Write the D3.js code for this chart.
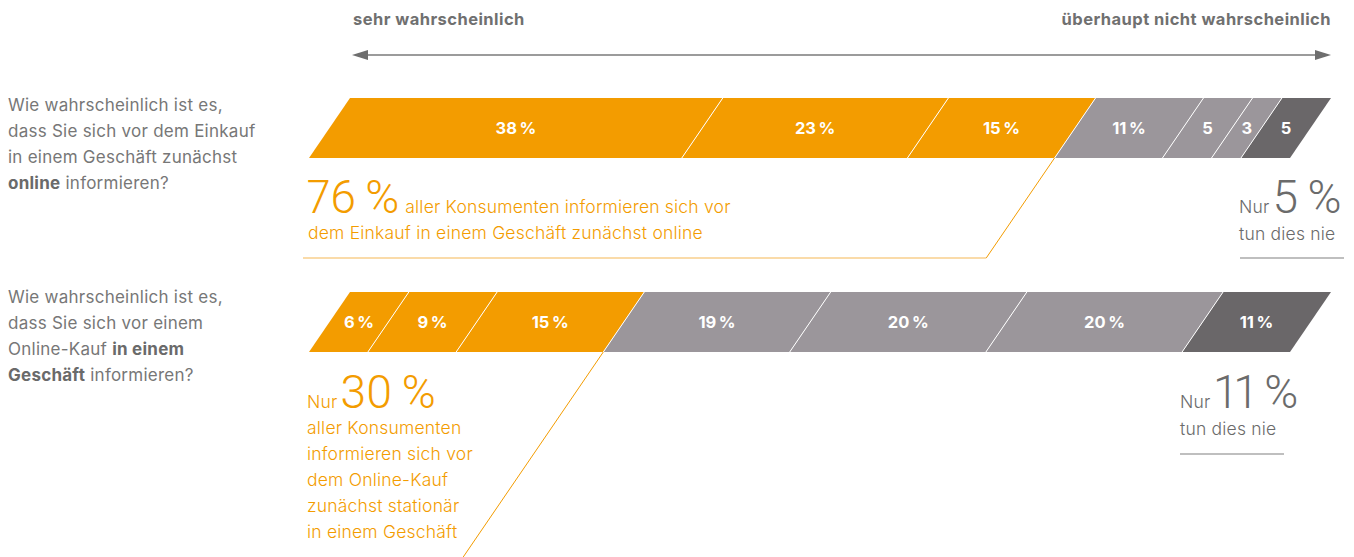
<!DOCTYPE html>
<html>
<head>
<meta charset="utf-8">
<script src="https://cdn.jsdelivr.net/npm/d3@7"></script>
<style>
  body { margin: 0; background: #fff; }
  text { font-family: Inter, Roboto, "Liberation Sans", sans-serif; }
  .big { font-family: Roboto, Inter, sans-serif; letter-spacing: 0; font-variant-numeric: proportional-nums; }
</style>
</head>
<body>
<svg width="1354" height="557"></svg>
<script>
// answer scale, from "sehr wahrscheinlich" (0) to "überhaupt nicht wahrscheinlich" (6)
var levels = [0, 1, 2, 3, 4, 5, 6];
var scaleEnds = ["sehr wahrscheinlich", "überhaupt nicht wahrscheinlich"];

var onlineFirst = [38, 23, 15, 11, 5, 3, 5];
var onlineFirstLabels = ["38 %", "23 %", "15 %", "11 %", "5", "3", "5"];
var storeFirst = [6, 9, 15, 19, 20, 20, 11];
var storeFirstLabels = ["6 %", "9 %", "15 %", "19 %", "20 %", "20 %", "11 %"];

var levelColors = ["#f39c00", "#f39c00", "#f39c00", "#9b969b", "#9b969b", "#9b969b", "#6a6769"];

var svg = d3.select("svg");
var orange = "#f39c00", grayText = "#777777";

var x = d3.scaleLinear().domain([0, 100]).range([350, 1331]);
var barH = 60, skew = 41; // top edge is shifted right by skew relative to bottom

// header with double arrow
svg.append("text").attr("x", 353).attr("y", 25)
  .attr("font-size", 16.5).attr("font-weight", 700).attr("fill", "#707070")
  .attr("letter-spacing", 0.45).text(scaleEnds[0]);
svg.append("text").attr("x", 1331).attr("y", 25).attr("text-anchor", "end")
  .attr("font-size", 16.5).attr("font-weight", 700).attr("fill", "#707070")
  .attr("letter-spacing", 0.45).text(scaleEnds[1]);
svg.append("line").attr("x1", 362).attr("x2", 1320).attr("y1", 55).attr("y2", 55)
  .attr("stroke", "#7a7a7a").attr("stroke-width", 1.5);
svg.append("path").attr("d", "M352,55 L368,50 L368,60 Z").attr("fill", "#6e6e6e");
svg.append("path").attr("d", "M1331,55 L1315,50 L1315,60 Z").attr("fill", "#6e6e6e");

function drawBar(values, labels, top) {
  var cum = d3.cumsum(values);
  var segs = values.map(function(v, i) {
    return { i: i, v: v, a: cum[i] - v, b: cum[i], label: labels[i] };
  });
  var g = svg.append("g");
  g.selectAll("path.seg").data(segs).enter().append("path")
    .attr("class", "seg")
    .attr("d", function(d) {
      return "M" + x(d.a) + "," + top + " L" + x(d.b) + "," + top +
        " L" + (x(d.b) - skew) + "," + (top + barH) + " L" + (x(d.a) - skew) + "," + (top + barH) + "Z";
    })
    .attr("fill", function(d) { return levelColors[levels[d.i]]; });
  g.selectAll("line.div").data(segs.slice(1)).enter().append("line")
    .attr("x1", function(d) { return x(d.a); }).attr("y1", top)
    .attr("x2", function(d) { return x(d.a) - skew; }).attr("y2", top + barH)
    .attr("stroke", "#fff").attr("stroke-width", 1);
  g.selectAll("text").data(segs).enter().append("text")
    .attr("x", function(d) { return x((d.a + d.b) / 2) - skew / 2; })
    .attr("y", top + barH / 2 + 6)
    .attr("text-anchor", "middle")
    .attr("font-size", 16.5).attr("font-weight", 700).attr("fill", "#fff")
    .text(function(d) { return d.label.replace(" ", "\u2009"); });
  return cum;
}

var cum1 = drawBar(onlineFirst, onlineFirstLabels, 98);
var cum2 = drawBar(storeFirst, storeFirstLabels, 292);

// questions
function question(lines, y0) {
  var t = svg.append("text").attr("x", 8).attr("font-size", 17).attr("fill", grayText)
    .attr("letter-spacing", 0.25);
  lines.forEach(function(parts, k) {
    parts.forEach(function(p, j) {
      var ts = t.append("tspan").text(p[0]);
      if (j === 0) ts.attr("x", 8).attr("y", y0 + k * 26);
      if (p[1]) ts.attr("font-weight", 700).attr("fill", "#6a6a6a");
    });
  });
}
question([[["Wie wahrscheinlich ist es,"]], [["dass Sie sich vor dem Einkauf"]],
  [["in einem Geschäft zunächst"]], [["online", 1], [" informieren?"]]], 111);
question([[["Wie wahrscheinlich ist es,"]], [["dass Sie sich vor einem"]],
  [["Online-Kauf "], ["in einem", 1]], [["Geschäft", 1], [" informieren?"]]], 303);

function note(sel) {
  return sel.attr("font-weight", 300).attr("font-size", 17.5).attr("letter-spacing", 0.2);
}

// annotation bar 1: 76 %
var top3 = d3.sum(onlineFirst.slice(0, 3));
var bx1 = x(cum1[2]) - skew, by1 = 98 + barH;
var ly1 = 258, lx1 = bx1 - (ly1 - by1) * skew / barH;
svg.append("line").attr("x1", bx1).attr("y1", by1).attr("x2", lx1).attr("y2", ly1)
  .attr("stroke", orange).attr("stroke-width", 1);
svg.append("line").attr("x1", 303).attr("x2", lx1).attr("y1", ly1).attr("y2", ly1)
  .attr("stroke", "#f8cf8c").attr("stroke-width", 1.5);
var t1 = note(svg.append("text").attr("x", 307).attr("y", 213).attr("fill", orange));
t1.append("tspan").attr("class", "big").attr("font-size", 46).text(top3 + "\u2009%");
t1.append("tspan").attr("dx", 6).text("aller Konsumenten informieren sich vor");
note(svg.append("text").attr("x", 308).attr("y", 239).attr("fill", orange))
  .text("dem Einkauf in einem Geschäft zunächst online");

// annotation bar 1: Nur 5 %
var t2 = note(svg.append("text").attr("x", 1239).attr("y", 213).attr("fill", "#6b6b6b"));
t2.append("tspan").text("Nur");
t2.append("tspan").attr("class", "big").attr("font-size", 46).attr("dx", 3).text(onlineFirst[6] + "\u2009%");
note(svg.append("text").attr("x", 1239).attr("y", 240).attr("fill", "#6b6b6b")).text("tun dies nie");
svg.append("line").attr("x1", 1240).attr("x2", 1344).attr("y1", 258).attr("y2", 258)
  .attr("stroke", "#aaaaaa").attr("stroke-width", 1.5);

// annotation bar 2: Nur 30 %
var top3b = d3.sum(storeFirst.slice(0, 3));
var bx2 = x(cum2[2]) - skew, by2 = 292 + barH;
var ly2 = 600, lx2 = bx2 - (ly2 - by2) * skew / barH;
svg.append("line").attr("x1", bx2).attr("y1", by2).attr("x2", lx2).attr("y2", ly2)
  .attr("stroke", orange).attr("stroke-width", 1);
var t3 = note(svg.append("text").attr("x", 307).attr("y", 408).attr("fill", orange));
t3.append("tspan").text("Nur");
t3.append("tspan").attr("class", "big").attr("font-size", 46).attr("dx", 3).text(top3b + "\u2009%");
["aller Konsumenten", "informieren sich vor", "dem Online-Kauf", "zunächst stationär", "in einem Geschäft"]
  .forEach(function(s, k) {
    note(svg.append("text").attr("x", 307).attr("y", 434 + k * 26).attr("fill", orange)).text(s);
  });

// annotation bar 2: Nur 11 % (the proportional "1" glyphs are narrow)
var t4 = note(svg.append("text").attr("x", 1180).attr("y", 408).attr("fill", "#6b6b6b"));
t4.append("tspan").text("Nur");
t4.append("tspan").attr("class", "big").attr("font-size", 46).attr("dx", 4)
  .attr("letter-spacing", -3).text(storeFirst[6] + "\u2009%");
note(svg.append("text").attr("x", 1180).attr("y", 435).attr("fill", "#6b6b6b")).text("tun dies nie");
svg.append("line").attr("x1", 1180).attr("x2", 1284).attr("y1", 454).attr("y2", 454)
  .attr("stroke", "#aaaaaa").attr("stroke-width", 1.5);
</script>
</body>
</html>
